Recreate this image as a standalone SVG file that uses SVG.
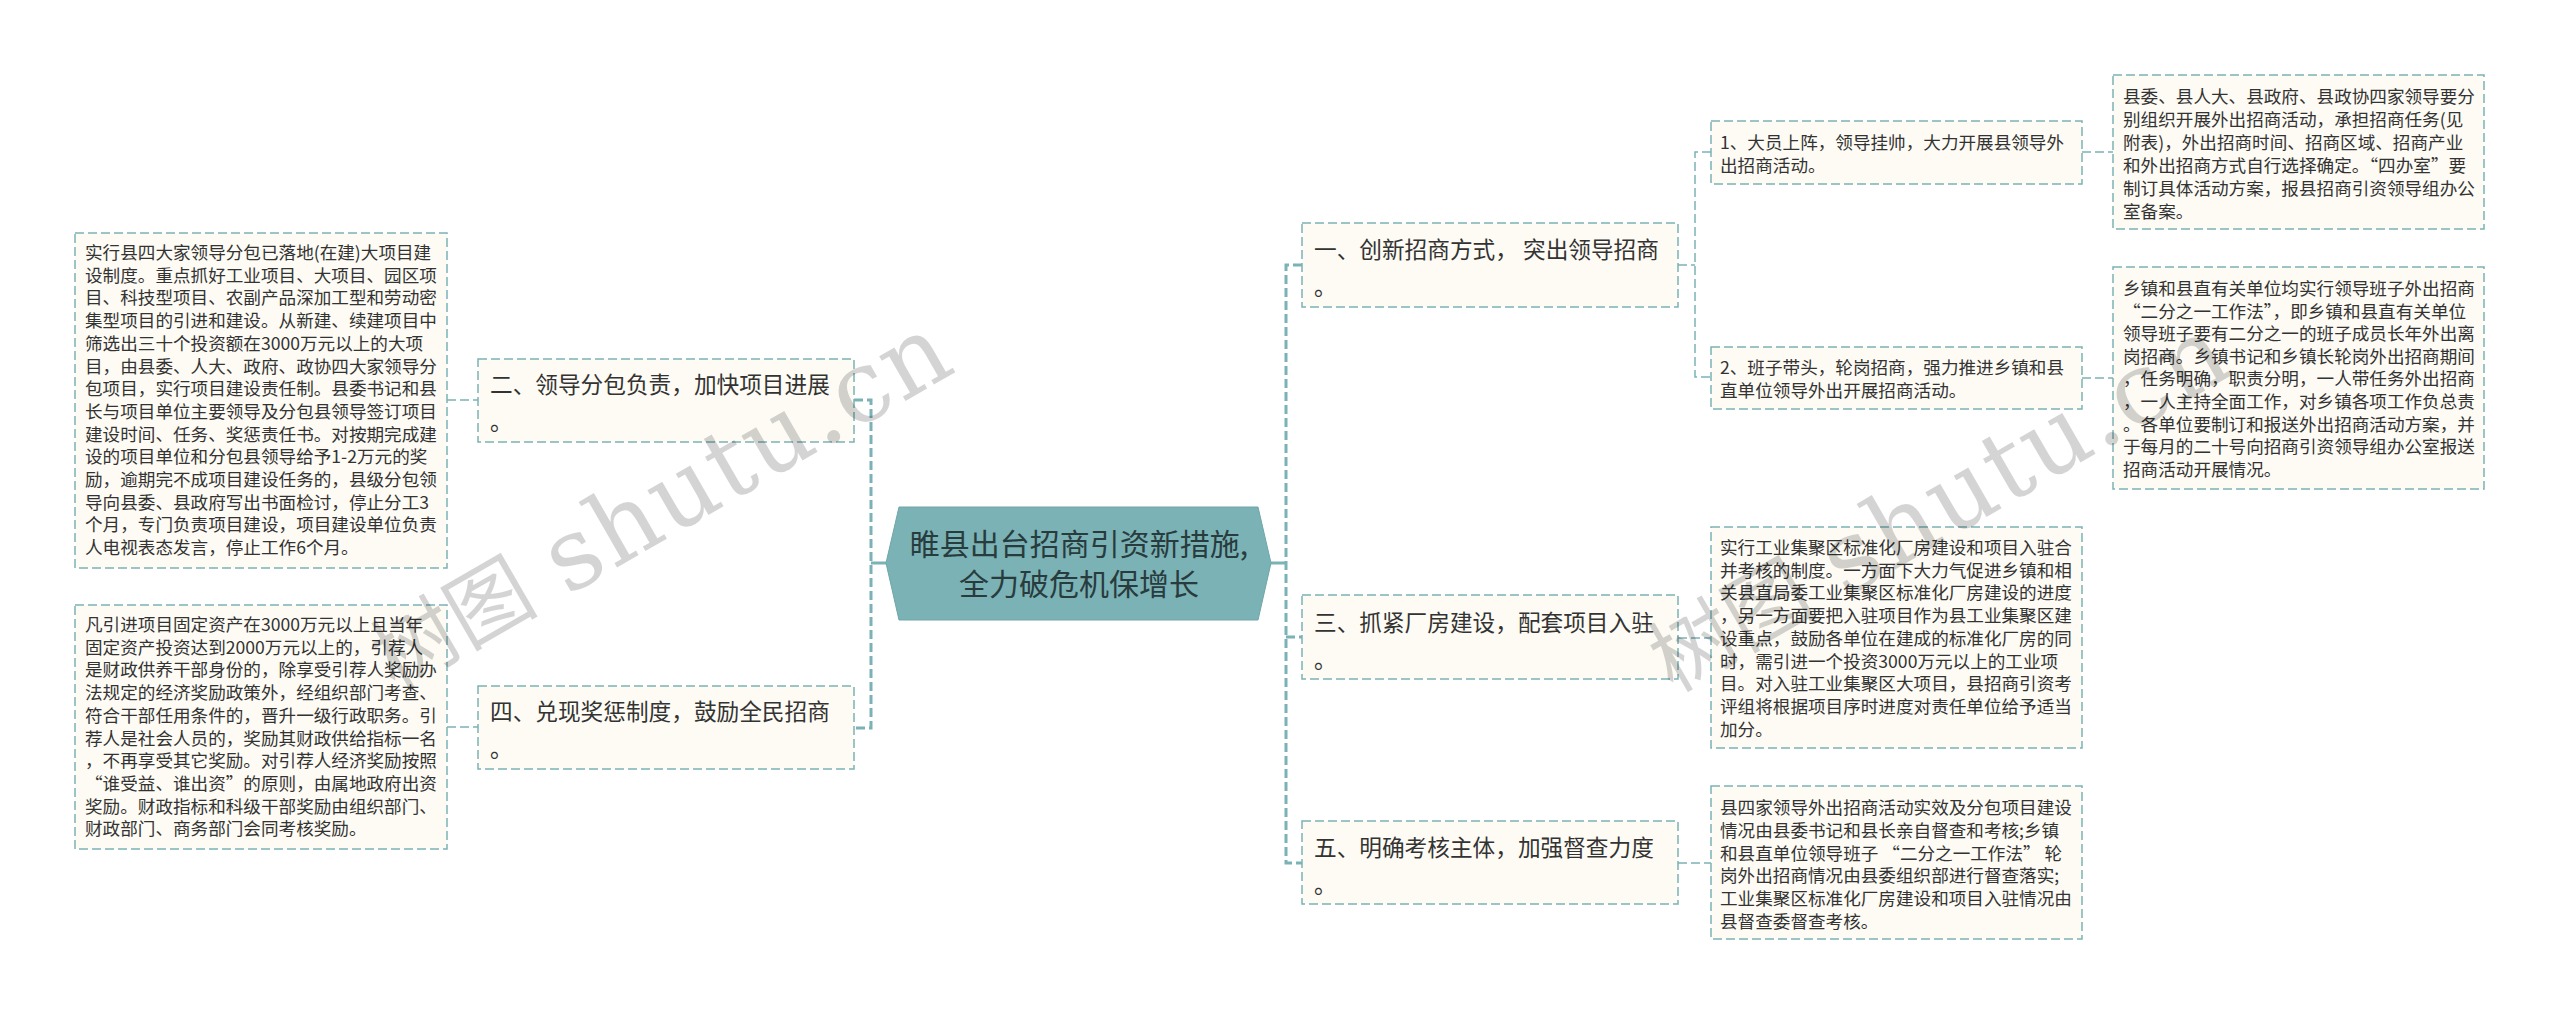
<svg xmlns="http://www.w3.org/2000/svg" width="2560" height="1015" viewBox="0 0 2560 1015">
<style>
text{font-family:"Noto Sans CJK SC","Noto Sans",sans-serif;fill:#333}
.box{fill:#fdfbf4;stroke:#7bb2b5;stroke-width:1.5;stroke-dasharray:9 4}
.s{font-size:17.6px}
.m{font-size:22.67px}
.c{font-size:30px;fill:#283c3e;text-anchor:middle}
.thin{fill:none;stroke:#7bb2b5;stroke-width:1.5;stroke-dasharray:9 4}
.thick{fill:none;stroke:#7bb2b5;stroke-width:3;stroke-dasharray:9 4}
.solid{fill:none;stroke:#7bb2b5;stroke-width:3}
.wmc{font-family:"Noto Sans CJK SC",sans-serif;font-size:84px;fill:#000;fill-opacity:.17}
.wml{font-family:"DejaVu Serif",serif;font-size:100px;letter-spacing:2px;fill:#000;fill-opacity:.17}
</style>
<g id="connectors">
<path class="solid" d="M886 563H871M1271 563H1286"/>
<path class="thick" d="M854 400H871V728H854"/>
<path class="thick" d="M1302 265H1286V863H1302M1286 637H1302"/>
<path class="thin" d="M447 400H478M447 727H478"/>
<path class="thin" d="M1678 265H1695M1711 152H1695V377H1711"/>
<path class="thin" d="M2082 152H2113M2082 378H2113M1678 638H1711M1678 863H1711"/>
</g>
<g id="root">
<path d="M899 507H1258L1271 563L1258 620H899L886 563Z" fill="#7bb2b5" stroke="#6fa6a9" stroke-width="1"/>
<text class="c"><tspan x="1079" y="555">睢县出台招商引资新措施,</tspan><tspan x="1079" y="595">全力破危机保增长</tspan></text>
</g>
<g id="n2">
<rect class="box" x="478" y="359" width="376" height="83"/>
<text class="m"><tspan x="490" y="393">二、领导分包负责&#65292;加快项目进展</tspan><tspan x="490" y="430">。</tspan></text>
</g>
<g id="n2a">
<rect class="box" x="75" y="233" width="372" height="335"/>
<text class="s"><tspan x="85" y="259">实行县四大家领导分包已落地(在建)大项目建</tspan><tspan x="85" y="281.7">设制度。重点抓好工业项目、大项目、园区项</tspan><tspan x="85" y="304.4">目、科技型项目、农副产品深加工型和劳动密</tspan><tspan x="85" y="327.1">集型项目的引进和建设。从新建、续建项目中</tspan><tspan x="85" y="349.8">筛选出三十个投资额在3000万元以上的大项</tspan><tspan x="85" y="372.5">目&#65292;由县委、人大、政府、政协四大家领导分</tspan><tspan x="85" y="395.2">包项目&#65292;实行项目建设责任制。县委书记和县</tspan><tspan x="85" y="417.9">长与项目单位主要领导及分包县领导签订项目</tspan><tspan x="85" y="440.6">建设时间、任务、奖惩责任书。对按期完成建</tspan><tspan x="85" y="463.3">设的项目单位和分包县领导给予1-2万元的奖</tspan><tspan x="85" y="486">励&#65292;逾期完不成项目建设任务的&#65292;县级分包领</tspan><tspan x="85" y="508.7">导向县委、县政府写出书面检讨&#65292;停止分工3</tspan><tspan x="85" y="531.4">个月&#65292;专门负责项目建设&#65292;项目建设单位负责</tspan><tspan x="85" y="554.1">人电视表态发言&#65292;停止工作6个月。</tspan></text>
</g>
<g id="n4">
<rect class="box" x="478" y="686" width="376" height="83"/>
<text class="m"><tspan x="490" y="720">四、兑现奖惩制度&#65292;鼓励全民招商</tspan><tspan x="490" y="757">。</tspan></text>
</g>
<g id="n4a">
<rect class="box" x="75" y="605" width="372" height="244"/>
<text class="s"><tspan x="85" y="631">凡引进项目固定资产在3000万元以上且当年</tspan><tspan x="85" y="653.7">固定资产投资达到2000万元以上的&#65292;引荐人</tspan><tspan x="85" y="676.4">是财政供养干部身份的&#65292;除享受引荐人奖励办</tspan><tspan x="85" y="699.1">法规定的经济奖励政策外&#65292;经组织部门考查、</tspan><tspan x="85" y="721.8">符合干部任用条件的&#65292;晋升一级行政职务。引</tspan><tspan x="85" y="744.5">荐人是社会人员的&#65292;奖励其财政供给指标一名</tspan><tspan x="85" y="767.2">&#65292;不再享受其它奖励。对引荐人经济奖励按照</tspan><tspan x="85" y="789.9">“谁受益、谁出资”的原则&#65292;由属地政府出资</tspan><tspan x="85" y="812.6">奖励。财政指标和科级干部奖励由组织部门、</tspan><tspan x="85" y="835.3">财政部门、商务部门会同考核奖励。</tspan></text>
</g>
<g id="n1">
<rect class="box" x="1302" y="223" width="376" height="84"/>
<text class="m"><tspan x="1314" y="258">一、创新招商方式&#65292; 突出领导招商</tspan><tspan x="1314" y="295">。</tspan></text>
</g>
<g id="n1-1">
<rect class="box" x="1711" y="121" width="371" height="63"/>
<text class="s"><tspan x="1720" y="149">1、大员上阵&#65292;领导挂帅&#65292;大力开展县领导外</tspan><tspan x="1720" y="171.7">出招商活动。</tspan></text>
</g>
<g id="n1-2">
<rect class="box" x="1711" y="347" width="371" height="62"/>
<text class="s"><tspan x="1720" y="374">2、班子带头&#65292;轮岗招商&#65292;强力推进乡镇和县</tspan><tspan x="1720" y="397">直单位领导外出开展招商活动。</tspan></text>
</g>
<g id="n1-1a">
<rect class="box" x="2113" y="75" width="371" height="154"/>
<text class="s"><tspan x="2123" y="103">县委、县人大、县政府、县政协四家领导要分</tspan><tspan x="2123" y="126">别组织开展外出招商活动&#65292;承担招商任务(见</tspan><tspan x="2123" y="149">附表)&#65292;外出招商时间、招商区域、招商产业</tspan><tspan x="2123" y="172">和外出招商方式自行选择确定。“四办室”要</tspan><tspan x="2123" y="195">制订具体活动方案&#65292;报县招商引资领导组办公</tspan><tspan x="2123" y="218">室备案。</tspan></text>
</g>
<g id="n1-2a">
<rect class="box" x="2113" y="267" width="371" height="222"/>
<text class="s"><tspan x="2123" y="295">乡镇和县直有关单位均实行领导班子外出招商</tspan><tspan x="2123" y="317.6">“二分之一工作法”&#65292;即乡镇和县直有关单位</tspan><tspan x="2123" y="340.2">领导班子要有二分之一的班子成员长年外出离</tspan><tspan x="2123" y="362.8">岗招商。乡镇书记和乡镇长轮岗外出招商期间</tspan><tspan x="2123" y="385.4">&#65292;任务明确&#65292;职责分明&#65292;一人带任务外出招商</tspan><tspan x="2123" y="408">&#65292;一人主持全面工作&#65292;对乡镇各项工作负总责</tspan><tspan x="2123" y="430.6">。各单位要制订和报送外出招商活动方案&#65292;并</tspan><tspan x="2123" y="453.2">于每月的二十号向招商引资领导组办公室报送</tspan><tspan x="2123" y="475.8">招商活动开展情况。</tspan></text>
</g>
<g id="n3">
<rect class="box" x="1302" y="595" width="376" height="84"/>
<text class="m"><tspan x="1314" y="631">三、抓紧厂房建设&#65292;配套项目入驻</tspan><tspan x="1314" y="668">。</tspan></text>
</g>
<g id="n3a">
<rect class="box" x="1711" y="527" width="371" height="221"/>
<text class="s"><tspan x="1720" y="554">实行工业集聚区标准化厂房建设和项目入驻合</tspan><tspan x="1720" y="576.7">并考核的制度。一方面下大力气促进乡镇和相</tspan><tspan x="1720" y="599.4">关县直局委工业集聚区标准化厂房建设的进度</tspan><tspan x="1720" y="622.1">&#65292;另一方面要把入驻项目作为县工业集聚区建</tspan><tspan x="1720" y="644.8">设重点&#65292;鼓励各单位在建成的标准化厂房的同</tspan><tspan x="1720" y="667.5">时&#65292;需引进一个投资3000万元以上的工业项</tspan><tspan x="1720" y="690.2">目。对入驻工业集聚区大项目&#65292;县招商引资考</tspan><tspan x="1720" y="712.9">评组将根据项目序时进度对责任单位给予适当</tspan><tspan x="1720" y="735.6">加分。</tspan></text>
</g>
<g id="n5">
<rect class="box" x="1302" y="821" width="376" height="83"/>
<text class="m"><tspan x="1314" y="856">五、明确考核主体&#65292;加强督查力度</tspan><tspan x="1314" y="893">。</tspan></text>
</g>
<g id="n5a">
<rect class="box" x="1711" y="786" width="371" height="153"/>
<text class="s"><tspan x="1720" y="814">县四家领导外出招商活动实效及分包项目建设</tspan><tspan x="1720" y="836.8">情况由县委书记和县长亲自督查和考核;乡镇</tspan><tspan x="1720" y="859.6">和县直单位领导班子 “二分之一工作法” 轮</tspan><tspan x="1720" y="882.4">岗外出招商情况由县委组织部进行督查落实;</tspan><tspan x="1720" y="905.2">工业集聚区标准化厂房建设和项目入驻情况由</tspan><tspan x="1720" y="928">县督查委督查考核。</tspan></text>
</g>
<g id="watermark">
<g transform="translate(473 653) rotate(-30)"><text class="wmc" x="-87" y="-6">树图</text><text class="wml" x="110" y="-2">shutu.cn</text></g>
<g transform="translate(1751 655) rotate(-30)"><text class="wmc" x="-87" y="-6">树图</text><text class="wml" x="110" y="-2">shutu.cn</text></g>
</g>
</svg>
